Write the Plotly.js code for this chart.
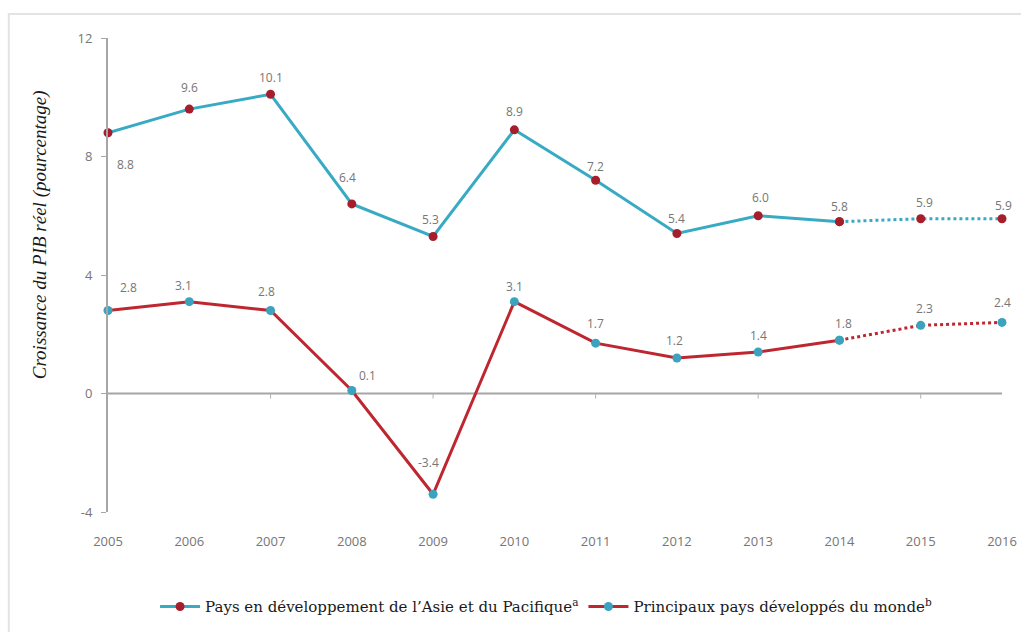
<!DOCTYPE html>
<html>
<head>
<meta charset="utf-8">
<script src="https://cdn.plot.ly/plotly-3.0.1.min.js"></script>
<style>
html,body{margin:0;padding:0;background:#fff;}
#chart{width:1021px;height:632px;}
</style>
</head>
<body>
<div id="chart"></div>
<script>
// ---- Data ----
const years = [2005, 2006, 2007, 2008, 2009, 2010, 2011, 2012, 2013, 2014, 2015, 2016];
const asiaPacific = [8.8, 9.6, 10.1, 6.4, 5.3, 8.9, 7.2, 5.4, 6.0, 5.8, 5.9, 5.9];
const developed = [2.8, 3.1, 2.8, 0.1, -3.4, 3.1, 1.7, 1.2, 1.4, 1.8, 2.3, 2.4];
const lastActualIndex = 9; // 2014: later years are forecasts (dotted)
const yTicks = [-4, 0, 4, 8, 12];
const xTickMarkYears = [2007, 2009, 2011, 2013, 2015];
const seriesNames = [
  "Pays en développement de l\u2019Asie et du Pacifique<sup>a</sup>",
  "Principaux pays développés du monde<sup>b</sup>"
];
const yTitle = 'Croissance du PIB réel (pourcentage)';

// ---- Styles ----
const blueLine = '#38AAC3';
const redMarker = '#A61E2C';
const redLine = '#BE2630';
const blueMarker = '#3BA3BE';
const grayText = '#767676';
const labelFont = {family: "'Open Sans', sans-serif", size: 12, color: grayText};
// label offsets in pixels [xshift, yshift] (style only)
const asiaLabelOffsets = [[17,-32],[0,22],[0,17],[-4,26],[-3,17],[0,18],[0,14],[0,15],[2,18],[0,15],[4,16],[1,13]];
const devLabelOffsets  = [[20,23],[-6,16],[-4,19],[16,15],[-5,32],[0,15],[0,20],[-2,17],[0,17],[4,17],[4,17],[0,20]];

function fmt(v) { return v.toFixed(1); }

function makeTraces(values, lineColor, markerColor, name) {
  const solidX = years.slice(0, lastActualIndex + 1);
  const solidY = values.slice(0, lastActualIndex + 1);
  const dotX = years.slice(lastActualIndex);
  const dotY = values.slice(lastActualIndex);
  return [
    {
      x: dotX, y: dotY, type: 'scatter', mode: 'lines+markers',
      line: {color: lineColor, width: 3, dash: 'dot'},
      marker: {color: markerColor, size: 9},
      showlegend: false, hoverinfo: 'x+y', cliponaxis: false
    },
    {
      x: solidX, y: solidY, type: 'scatter', mode: 'lines+markers',
      line: {color: lineColor, width: 3},
      marker: {color: markerColor, size: 9},
      name: name, cliponaxis: false
    }
  ];
}

const traces = [].concat(
  makeTraces(asiaPacific, blueLine, redMarker, seriesNames[0]),
  makeTraces(developed, redLine, blueMarker, seriesNames[1])
);

function labels(values, offsets) {
  return values.map((v, i) => ({
    x: years[i], y: v, xref: 'x', yref: 'y', text: fmt(v), showarrow: false,
    xshift: offsets[i][0], yshift: offsets[i][1], font: labelFont
  }));
}

const annotations = [].concat(
  labels(asiaPacific, asiaLabelOffsets),
  labels(developed, devLabelOffsets),
  [{
    xref: 'paper', yref: 'paper', x: -0.076, y: 0.584, xanchor: 'center', yanchor: 'middle',
    textangle: -90,
    text: '<i>' + yTitle + '</i>', showarrow: false,
    font: {family: "'Liberation Serif', serif", size: 19, color: '#1a1a1a'}
  }]
);

const shapes = [
  // outer frame
  {type: 'rect', xref: 'paper', yref: 'paper', x0: -0.111, x1: 1.03, y0: -0.26, y1: 1.0506,
   line: {color: '#e3e3e3', width: 2}, fillcolor: 'rgba(0,0,0,0)', layer: 'below'},
  // horizontal axis at zero
  {type: 'line', xref: 'x', yref: 'y', x0: years[0], x1: years[years.length - 1], y0: 0, y1: 0,
   line: {color: '#a6a6a6', width: 2}, layer: 'below'}
].concat(xTickMarkYears.map(yr => ({
  type: 'line', xref: 'x', yref: 'y', x0: yr, x1: yr, y0: 0, y1: -0.17,
  line: {color: '#b0b0b0', width: 1}, layer: 'below'
})));

const layout = {
  width: 1021, height: 632,
  margin: {l: 108, r: 19, t: 38, b: 120, autoexpand: false},
  paper_bgcolor: '#ffffff', plot_bgcolor: '#ffffff',
  showlegend: true,
  legend: {
    orientation: 'h', x: 0.49, xanchor: 'center', y: -0.2, yanchor: 'middle',
    font: {family: 'DejaVu Serif', size: 15, color: '#1a1a1a'},
    traceorder: 'normal', itemwidth: 40
  },
  xaxis: {
    range: [years[0], years[years.length - 1]],
    tickvals: years, ticktext: years.map(String),
    showgrid: false, zeroline: false, showline: false, ticks: '',
    ticklabelstandoff: 20, automargin: false,
    tickfont: {family: "'Open Sans', sans-serif", size: 13, color: grayText},
    fixedrange: true
  },
  yaxis: {
    range: [-4, 12], tickvals: yTicks, ticktext: yTicks.map(String),
    showgrid: false, zeroline: false, showline: true, linecolor: '#a6a6a6', linewidth: 2,
    ticks: 'outside', ticklen: 5, tickcolor: '#a6a6a6', tickwidth: 1,
    ticklabelstandoff: 6, automargin: false,
    tickfont: {family: "'Open Sans', sans-serif", size: 13, color: grayText},
    fixedrange: true
  },
  annotations: annotations,
  shapes: shapes
};

Plotly.newPlot('chart', traces, layout, {displayModeBar: false, staticPlot: true});
</script>
</body>
</html>
